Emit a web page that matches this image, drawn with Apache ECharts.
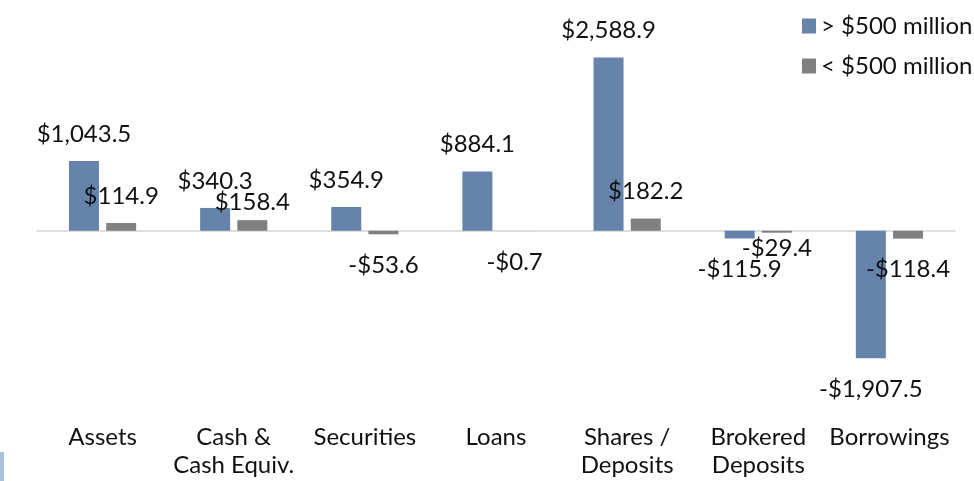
<!DOCTYPE html>
<html>
<head>
<meta charset="utf-8">
<title>Balance sheet change by asset size</title>
<script src="https://cdn.jsdelivr.net/npm/echarts@6/dist/echarts.min.js"></script>
<style>
  html, body { margin: 0; padding: 0; background: #fff; }
  #chart { width: 974px; height: 481px; }
</style>
</head>
<body>
<div id="chart"></div>
<script>
  // categories and values ($ millions)
  var categories = ['Assets', 'Cash &\nCash Equiv.', 'Securities', 'Loans', 'Shares /\nDeposits', 'Brokered\nDeposits', 'Borrowings'];
  var seriesNames = ['> $500 million', '< $500 million'];
  var over500 = [1043.5, 340.3, 354.9, 884.1, 2588.9, -115.9, -1907.5];
  var under500 = [114.9, 158.4, -53.6, -0.7, 182.2, -29.4, -118.4];

  var FONT = 'Lato';
  var FSIZE = 24;
  var TEXT = '#111';

  // a couple of labels were moved by hand in the original
  var labelNudge = { '1-1': [0, 9], '1-5': [0, -15] };

  function money(v) {
    var s = Math.abs(v).toFixed(1).replace(/\B(?=(\d{3})+(?!\d))/g, ',');
    return (v < 0 ? '-$' : '$') + s;
  }

  function buildData(values, sIdx) {
    return values.map(function (v, i) {
      var neg = v < 0;
      return {
        value: v,
        label: {
          position: neg ? 'bottom' : 'top',
          distance: neg ? 19 : 15,
          offset: labelNudge[sIdx + '-' + i] || [0, 0]
        }
      };
    });
  }

  var myChart = echarts.init(document.getElementById('chart'));
  var option = {
    animation: false,
    textStyle: { fontFamily: FONT },
    legend: {
      orient: 'vertical',
      left: 797,
      top: 9,
      icon: 'rect',
      itemWidth: 14,
      itemHeight: 15,
      itemGap: 16,
      data: seriesNames,
      textStyle: { fontFamily: FONT, fontSize: FSIZE, lineHeight: 23, color: TEXT }
    },
    grid: { left: 37, right: 19, top: 30, bottom: 83 },
    xAxis: [{
      type: 'category',
      data: categories,
      position: 'bottom',
      axisLine: { onZero: true, lineStyle: { color: '#d4d4d4', width: 1.5 } },
      axisTick: { show: false },
      axisLabel: { show: false }
    }, {
      type: 'category',
      data: categories,
      position: 'bottom',
      axisLine: { show: false, onZero: false },
      axisTick: { show: false },
      axisLabel: {
        margin: 25,
        fontFamily: FONT,
        fontSize: FSIZE,
        lineHeight: 28,
        color: TEXT,
        interval: 0
      }
    }],
    yAxis: {
      type: 'value',
      min: -2500,
      max: 3000,
      show: false,
      splitLine: { show: false }
    },
    graphic: [{
      type: 'rect',
      shape: { x: 0, y: 452, width: 4, height: 29 },
      style: { fill: '#aac2de' },
      silent: true
    }],
    series: [{
      name: seriesNames[0],
      type: 'bar',
      xAxisIndex: 0,
      data: buildData(over500, 0),
      barWidth: 30,
      barGap: '24%',
      itemStyle: { color: '#6583ab' },
      label: {
        show: true,
        fontFamily: FONT,
        fontSize: FSIZE,
        color: TEXT,
        formatter: function (p) { return money(p.value); }
      }
    }, {
      name: seriesNames[1],
      type: 'bar',
      xAxisIndex: 0,
      data: buildData(under500, 1),
      barWidth: 30,
      barGap: '24%',
      itemStyle: { color: '#808080' },
      label: {
        show: true,
        fontFamily: FONT,
        fontSize: FSIZE,
        color: TEXT,
        formatter: function (p) { return money(p.value); }
      }
    }]
  };
  myChart.setOption(option);
</script>
</body>
</html>
